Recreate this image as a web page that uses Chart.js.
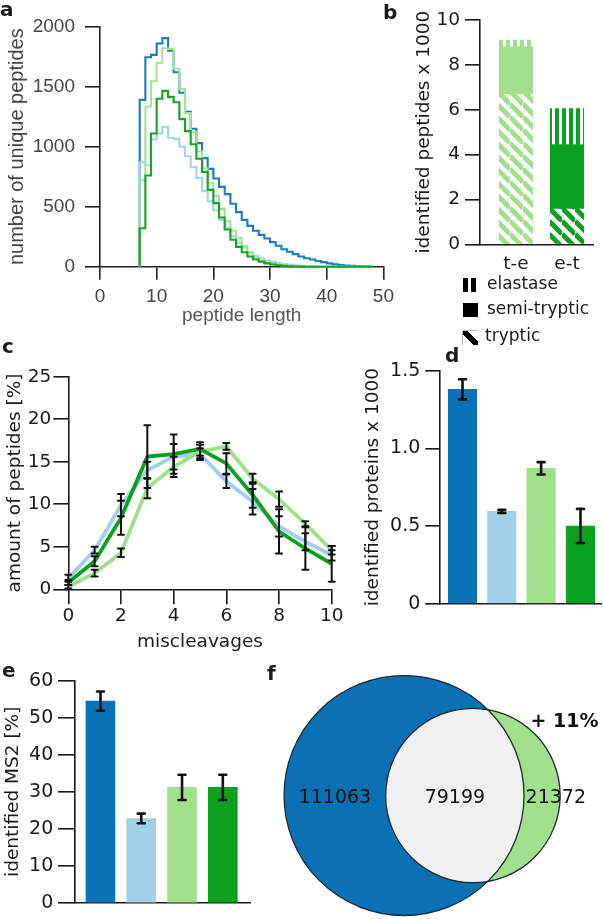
<!DOCTYPE html>
<html>
<head>
<meta charset="utf-8">
<script src="https://cdn.jsdelivr.net/npm/chart.js@4.4.1/dist/chart.umd.min.js"></script>
<style>
  html, body { margin: 0; padding: 0; background: #fff; }
  body { width: 603px; height: 919px; position: relative; overflow: hidden;
         font-family: 'DejaVu Sans', sans-serif; color: #1a1a1a; }
  canvas { position: absolute; }
  .tag { position: absolute; font-weight: bold; font-size: 20px; line-height: 1; }
  .leg { position: absolute; font-size: 17px; line-height: 1; white-space: nowrap; }
  .icon { position: absolute; background: #000; }
</style>
</head>
<body>
<canvas id="chartA" width="400" height="330" style="left:0;top:0"></canvas>
<canvas id="chartB" width="223" height="275" style="left:380px;top:0"></canvas>
<canvas id="chartC" width="350" height="320" style="left:0;top:340px"></canvas>
<canvas id="chartD" width="243" height="275" style="left:360px;top:345px"></canvas>
<canvas id="chartE" width="260" height="264" style="left:0;top:655px"></canvas>
<canvas id="chartF" width="323" height="264" style="left:280px;top:655px"></canvas>

<div class="tag" style="left:0;top:-1px">a</div>
<div class="tag" style="left:383px;top:2px">b</div>
<div class="tag" style="left:2px;top:336px">c</div>
<div class="tag" style="left:445px;top:345px">d</div>
<div class="tag" style="left:2px;top:660px">e</div>
<div class="tag" style="left:267px;top:663px">f</div>

<!-- legend of panel b -->
<div class="icon" style="left:463px;top:278px;width:5px;height:14px"></div>
<div class="icon" style="left:471px;top:278px;width:5px;height:14px"></div>
<div class="leg" style="left:487px;top:275px">elastase</div>
<div class="icon" style="left:463px;top:303px;width:15px;height:14px"></div>
<div class="leg" style="left:487px;top:300px">semi-tryptic</div>
<div class="icon" style="left:462px;top:330px;width:15px;height:14px;border-left:1px solid #bbb;border-top:1px solid #bbb;
     background:linear-gradient(45deg,#fff 0,#fff 36%,#000 36%,#000 64%,#fff 64%)"></div>
<div class="leg" style="left:485px;top:327px">tryptic</div>

<script>
// ---- a: peptide length distribution (histogram, bin width 1)
const peptideLength = [7, 8, 9, 10, 11, 12, 13, 14, 15, 16, 17, 18, 19, 20, 21, 22, 23, 24, 25, 26, 27,
  28, 29, 30, 31, 32, 33, 34, 35, 36, 37, 38, 39, 40, 41, 42, 43, 44, 45, 46, 47];
const histDarkBlue = [1390, 1745, 1765, 1860, 1905, 1800, 1620, 1450, 1290, 1150, 1030, 905, 815, 735, 665,
  605, 525, 455, 390, 340, 300, 265, 235, 205, 175, 145, 125, 105, 85, 70, 60, 48, 38, 28, 20, 14, 10, 7, 5, 3, 2];
const histLightBlue = [870, 845, 1060, 1110, 1165, 1075, 1065, 1000, 920, 830, 740, 630, 545, 470, 390,
  320, 255, 200, 160, 120, 90, 70, 52, 40, 30, 22, 16, 11, 8, 5, 3, 2, 0, 0, 0, 0, 0, 0, 0, 0, 0];
const histLightGreen = [720, 1335, 1545, 1700, 1820, 1815, 1650, 1480, 1280, 1120, 960, 820, 700, 590, 480,
  380, 300, 240, 175, 115, 75, 50, 33, 22, 14, 9, 6, 4, 2, 0, 0, 0, 0, 0, 0, 0, 0, 0, 0, 0, 0];
const histGreen = [320, 760, 1110, 1400, 1465, 1415, 1370, 1230, 1130, 1020, 900, 790, 640, 530, 410,
  310, 225, 165, 120, 85, 60, 42, 28, 18, 12, 7, 4, 2, 1, 0, 0, 0, 0, 0, 0, 0, 0, 0, 0, 0, 0];

// ---- b: identified peptides x 1000 (stacked)
const bCategories = ['t-e', 'e-t'];
const bTryptic = [6.7, 1.6];
const bSemiTryptic = [2.1, 2.85];
const bElastase = [0.3, 1.6];

// ---- c: miscleavages
const miscleavages = [0, 1, 2, 3, 4, 5, 6, 7, 8, 9, 10];
const mcLightBlue = [1.3, 4.6, 9.9, 14.0, 15.6, 15.9, 12.7, 10.3, 7.4, 5.6, 4.0];
const mcLightBlueErr = [0.4, 0.4, 1.3, 1.0, 1.5, 0.7, 0.8, 1.5, 1.2, 1.0, 0.6];
const mcLightGreen = [0.3, 1.9, 4.3, 11.9, 14.4, 16.2, 16.8, 13.0, 10.6, 7.7, 4.6];
const mcLightGreenErr = [0.2, 0.4, 0.5, 1.2, 1.2, 0.8, 0.4, 0.6, 0.9, 0.3, 0.5];
const mcGreen = [0.8, 3.3, 8.4, 15.6, 15.9, 16.5, 14.8, 11.1, 6.8, 4.8, 3.0];
const mcGreenErr = [0.3, 0.6, 2.0, 3.7, 2.3, 0.8, 1.2, 1.5, 2.6, 2.5, 2.1];

// ---- d: identified proteins x 1000
const proteins = [1.38, 0.594, 0.871, 0.50];
const proteinsErr = [0.065, 0.01, 0.04, 0.11];

// ---- e: identified MS2 [%]
const ms2 = [54.5, 22.8, 31.2, 31.2];
const ms2Err = [2.6, 1.3, 3.4, 3.4];

// ---- f: overlap of identified peptides (only A, both, only B)
const vennCounts = [111063, 79199, 21372];

const darkBlue = '#0a73b6', lightBlue = '#a3cfe8', lightGreen = '#a2df8c', green = '#0ba11e';
const barColors = [darkBlue, lightBlue, lightGreen, green];
const ink = '#1a1a1a';

Chart.defaults.animation = false;
Chart.defaults.font.family = "'DejaVu Sans', sans-serif";
Chart.defaults.color = ink;
Chart.defaults.plugins.legend.display = false;
Chart.defaults.plugins.tooltip.enabled = false;

function valueAxis(o) {
  return {
    min: o.min, max: o.max,
    ticks: { stepSize: o.step, padding: o.pad, font: { size: o.size || 18.5, family: o.family }, color: o.color, callback: o.cb },
    grid: { drawOnChartArea: false, tickLength: o.tick, color: o.line || ink, lineWidth: 1.6 },
    border: { color: o.line || ink, width: 1.6 },
    title: { display: true, text: o.title, font: { size: o.tsize || 18.5, family: o.family }, color: o.color,
             padding: { top: o.tpad, bottom: 0 } },
    afterFit: s => { s.width = o.width; }
  };
}

// draws mean +/- error whiskers from dataset.errors
const errorBars = {
  id: 'errorBars',
  afterDatasetsDraw(chart, args, opts) {
    const { ctx, scales: { x, y } } = chart;
    ctx.save();
    ctx.strokeStyle = '#111';
    ctx.lineWidth = opts.width || 2;
    ctx.lineCap = 'round';
    chart.data.datasets.forEach(ds => {
      if (!ds.errors) return;
      ds.data.forEach((p, i) => {
        const px = x.getPixelForValue(p.x);
        const top = y.getPixelForValue(p.y + ds.errors[i]);
        const bot = y.getPixelForValue(p.y - ds.errors[i]);
        const w = (opts.cap || 6) / 2;
        ctx.beginPath();
        ctx.moveTo(px, top); ctx.lineTo(px, bot);
        ctx.moveTo(px - w, top); ctx.lineTo(px + w, top);
        ctx.moveTo(px - w, bot); ctx.lineTo(px + w, bot);
        ctx.stroke();
      });
    });
    ctx.restore();
  }
};

// ---------- a
function stepPoints(values) {
  const pts = [{ x: peptideLength[0], y: 0 }];
  values.forEach((v, i) => pts.push({ x: peptideLength[i], y: v }));
  pts.push({ x: peptideLength[peptideLength.length - 1] + 1, y: 0 });
  return pts;
}
function histSet(values, color) {
  return { data: stepPoints(values), borderColor: color, borderWidth: 2.1, pointRadius: 0,
           stepped: 'before', fill: false, clip: 4 };
}
const fontA = "'Liberation Sans', Arial, sans-serif";
new Chart(document.getElementById('chartA'), {
  type: 'line',
  data: { datasets: [
    histSet(histGreen, '#15a526'),
    histSet(histLightGreen, '#a6e394'),
    histSet(histLightBlue, '#a4d3ec'),
    histSet(histDarkBlue, '#187cc0')
  ] },
  options: {
    responsive: false,
    layout: { padding: { top: 26.7, right: 13.5, left: 0, bottom: 0 } },
    scales: {
      x: {
        type: 'linear', min: 0, max: 50,
        ticks: { stepSize: 10, padding: 6, font: { size: 19, family: fontA }, color: '#444', maxRotation: 0 },
        grid: { drawOnChartArea: false, tickLength: 13, color: '#222', lineWidth: 1.6 },
        border: { color: '#222', width: 1.6 },
        title: { display: true, text: 'peptide length', font: { size: 19, family: fontA }, color: '#555',
                 padding: { top: 0, bottom: 2.6 } },
        afterFit: s => { s.height = 330 - 266.7; }
      },
      y: valueAxis({ min: 0, max: 2000, step: 500, pad: 10, tick: 15, size: 19, family: fontA, color: '#444',
                     line: '#222', title: 'number of unique peptides', tsize: 20, tpad: 5, width: 100 })
    }
  }
});

// ---------- b
function stripes(color, kind) {
  const c = document.createElement('canvas');
  const g = c.getContext('2d');
  if (kind === 'diag') {
    const s = 13;
    c.width = s; c.height = s;
    g.strokeStyle = color; g.lineWidth = 5;
    for (let k = -1; k <= 1; k++) {
      g.beginPath(); g.moveTo(0, k * s); g.lineTo(s, s + k * s); g.stroke();
    }
  } else {
    c.width = 7; c.height = 7;
    g.fillStyle = color; g.fillRect(0, 0, 4, 7);
  }
  return g.createPattern(c, 'repeat');
}
const bColors = [lightGreen, green];
function stackSet(values, fill) {
  return { data: values.map((v, i) => ({ x: i, y: v })), backgroundColor: fill, borderWidth: 0,
           barThickness: 33.5, stack: 'all' };
}
new Chart(document.getElementById('chartB'), {
  type: 'bar',
  data: { datasets: [
    stackSet(bTryptic, bColors.map(c => stripes(c, 'diag'))),
    stackSet(bSemiTryptic, bColors),
    stackSet(bElastase, bColors.map(c => stripes(c, 'vert')))
  ] },
  options: {
    responsive: false,
    layout: { padding: { top: 20, right: 10, left: 0, bottom: 0 } },
    scales: {
      x: {
        type: 'linear', min: -0.706, max: 1.51, offset: false,
        afterBuildTicks: s => { s.ticks = bCategories.map((c, i) => ({ value: i })); },
        ticks: { callback: v => bCategories[v], padding: 9, font: { size: 18.5 }, autoSkip: false, maxRotation: 0 },
        grid: { drawOnChartArea: false, drawTicks: false, offset: false },
        border: { color: ink, width: 1.6 },
        afterFit: s => { s.height = 275 - 244.3; }
      },
      y: Object.assign(valueAxis({ min: 0, max: 10, step: 2, pad: 5, tick: 15, title: 'identified peptides x 1000',
                                   tpad: 33, width: 100 }), { stacked: true })
    }
  }
});

// ---------- c
function mcSet(values, errs, color) {
  return { data: values.map((v, i) => ({ x: miscleavages[i], y: v })), errors: errs, borderColor: color,
           borderWidth: 3.8, pointRadius: 0, tension: 0, fill: false };
}
new Chart(document.getElementById('chartC'), {
  type: 'line',
  data: { datasets: [
    mcSet(mcGreen, mcGreenErr, green),
    mcSet(mcLightGreen, mcLightGreenErr, lightGreen),
    mcSet(mcLightBlue, mcLightBlueErr, lightBlue)
  ] },
  options: {
    responsive: false,
    layout: { padding: { top: 36.7, right: 18.3, left: 0, bottom: 0 } },
    plugins: { errorBars: { cap: 6, width: 2 } },
    scales: {
      x: {
        type: 'linear', min: 0, max: 10,
        ticks: { stepSize: 2, padding: 1, font: { size: 18.5 }, maxRotation: 0 },
        grid: { drawOnChartArea: false, tickLength: 15, color: ink, lineWidth: 1.6 },
        border: { color: ink, width: 1.6 },
        title: { display: true, text: 'miscleavages', font: { size: 18.5 }, padding: { top: 0, bottom: 7 } },
        afterFit: s => { s.height = 320 - 249.3; }
      },
      y: valueAxis({ min: 0, max: 25, step: 5, pad: 2, tick: 15, title: 'amount of peptides [%]', tpad: 4, width: 68.3 })
    }
  },
  plugins: [errorBars]
});

// ---------- d and e
function barChart(id, values, errs, o) {
  return new Chart(document.getElementById(id), {
    type: 'bar',
    data: { datasets: [{
      data: values.map((v, i) => ({ x: i, y: v })), errors: errs,
      backgroundColor: barColors, borderWidth: 0, barThickness: o.bar
    }] },
    options: {
      responsive: false,
      layout: { padding: { top: o.top, right: o.right, left: 0, bottom: 0 } },
      plugins: { errorBars: { cap: 7, width: 2.6 } },
      scales: {
        x: {
          type: 'linear', min: o.xmin, max: o.xmax, offset: false,
          ticks: { display: false }, grid: { display: false, offset: false },
          border: { color: ink, width: 1.6 },
          afterFit: s => { s.height = o.xh; }
        },
        y: valueAxis(o.y)
      }
    },
    plugins: [errorBars]
  });
}
barChart('chartD', proteins, proteinsErr, {
  bar: 28.5, top: 25.7, right: 1.3, xmin: -0.59, xmax: 3.54, xh: 10,
  y: { min: 0, max: 1.5, step: 0.5, pad: 5, tick: 14, size: 19, cb: v => (v === 0 ? '0' : v.toFixed(1)),
       title: 'identified proteins x 1000', tpad: 2.4, width: 79.3 }
});
barChart('chartE', ms2, ms2Err, {
  bar: 29, top: 25.7, right: 10, xmin: -0.625, xmax: 3.667, xh: 264 - 255.7,
  y: { min: 0, max: 60, step: 10, pad: 4.7, tick: 17, size: 19, title: 'identified MS2 [%]', tpad: 2.4, width: 75 }
});

// ---------- f: area-proportional Venn diagram
function lensArea(r1, r2, d) {
  if (d >= r1 + r2) return 0;
  if (d <= Math.abs(r1 - r2)) return Math.PI * Math.min(r1, r2) ** 2;
  const a1 = Math.acos((d * d + r1 * r1 - r2 * r2) / (2 * d * r1));
  const a2 = Math.acos((d * d + r2 * r2 - r1 * r1) / (2 * d * r2));
  return r1 * r1 * a1 + r2 * r2 * a2 -
    0.5 * Math.sqrt((-d + r1 + r2) * (d + r1 - r2) * (d - r1 + r2) * (d + r1 + r2));
}
function vennGeometry() {
  const [onlyA, both, onlyB] = vennCounts;
  const rA = Math.sqrt((onlyA + both) / Math.PI);
  const rB = Math.sqrt((onlyB + both) / Math.PI);
  let lo = Math.abs(rA - rB), hi = rA + rB;
  for (let k = 0; k < 60; k++) {
    const mid = (lo + hi) / 2;
    if (lensArea(rA, rB, mid) > both) lo = mid; else hi = mid;
  }
  return { rA, rB, d: (lo + hi) / 2 };
}
const vennPlugin = {
  id: 'venn',
  afterDatasetsDraw(chart) {
    const { ctx, scales: { x, y } } = chart;
    const g = vennGeometry();
    const cxA = x.getPixelForValue(0), cxB = x.getPixelForValue(g.d), cy = y.getPixelForValue(0);
    const ra = x.getPixelForValue(g.rA) - cxA, rb = x.getPixelForValue(g.rB) - cxA;
    const circle = (cx, r) => { ctx.beginPath(); ctx.arc(cx, cy, r, 0, Math.PI * 2); };
    ctx.save();
    circle(cxA, ra); ctx.fillStyle = '#0a72b4'; ctx.fill();
    circle(cxB, rb); ctx.fillStyle = lightGreen; ctx.fill();
    ctx.save();
    circle(cxA, ra); ctx.clip();
    circle(cxB, rb); ctx.fillStyle = '#f0f0f0'; ctx.fill();
    ctx.restore();
    ctx.strokeStyle = '#1c2a30'; ctx.lineWidth = 1.3;
    circle(cxA, ra); ctx.stroke();
    circle(cxB, rb); ctx.stroke();

    const [onlyA, both, onlyB] = vennCounts;
    ctx.fillStyle = '#111';
    ctx.textAlign = 'center'; ctx.textBaseline = 'middle';
    ctx.font = "19px 'DejaVu Sans'";
    ctx.fillText(String(onlyA), (cxA - ra + cxB - rb) / 2, cy + 2.5);
    ctx.fillText(String(both), (cxB - rb + cxA + ra) / 2, cy + 2.5);
    ctx.fillText(String(onlyB), cxB + rb * 0.95, cy + 2.5);
    ctx.font = "bold 19px 'DejaVu Sans'";
    ctx.fillText('+ ' + Math.round(onlyB / (onlyA + both) * 100) + '%', cxB + rb * 1.05, cy - rb * 0.84);
    ctx.restore();
  }
};
const vennGeo = vennGeometry();
new Chart(document.getElementById('chartF'), {
  type: 'scatter',
  data: { datasets: [{ data: [{ x: 0, y: 0 }, { x: vennGeo.d, y: 0 }], pointRadius: 0 }] },
  options: {
    responsive: false,
    layout: { padding: 0 },
    scales: {
      x: { display: false, min: -256.4 + 2, max: 406.1 + 2 },
      y: { display: false, min: -253.3, max: 288.2 }
    }
  },
  plugins: [vennPlugin]
});
</script>
</body>
</html>
